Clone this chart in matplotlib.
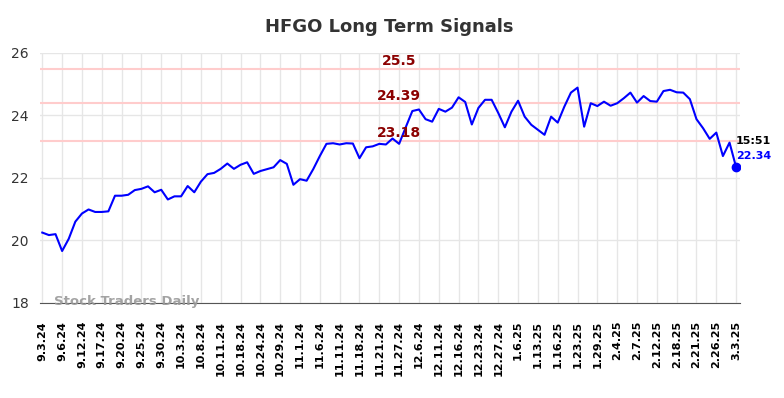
import matplotlib.pyplot as plt
import numpy as np

# closing prices, one every trading session shown
prices = [20.25, 20.17, 20.20, 19.66, 20.05, 20.60, 20.86, 20.99, 20.91, 20.91,
          20.93, 21.43, 21.43, 21.46, 21.61, 21.65, 21.73, 21.54, 21.62, 21.31,
          21.41, 21.41, 21.74, 21.54, 21.88, 22.12, 22.16, 22.29, 22.46, 22.29,
          22.42, 22.50, 22.13, 22.22, 22.28, 22.34, 22.57, 22.45, 21.78, 21.96,
          21.91, 22.28, 22.70, 23.09, 23.11, 23.07, 23.11, 23.10, 22.63, 22.98,
          23.01, 23.09, 23.07, 23.26, 23.09, 23.62, 24.14, 24.19, 23.88, 23.80,
          24.21, 24.12, 24.25, 24.58, 24.43, 23.71, 24.24, 24.50, 24.50, 24.08,
          23.62, 24.12, 24.47, 23.96, 23.70, 23.54, 23.38, 23.96, 23.77, 24.28,
          24.73, 24.89, 23.64, 24.39, 24.30, 24.44, 24.31, 24.39, 24.55, 24.73,
          24.41, 24.62, 24.46, 24.44, 24.78, 24.82, 24.74, 24.73, 24.52, 23.88,
          23.59, 23.25, 23.45, 22.70, 23.13, 22.34]

tick_labels = ['9.3.24', '9.6.24', '9.12.24', '9.17.24', '9.20.24', '9.25.24',
               '9.30.24', '10.3.24', '10.8.24', '10.11.24', '10.18.24', '10.24.24',
               '10.29.24', '11.1.24', '11.6.24', '11.11.24', '11.18.24', '11.21.24',
               '11.27.24', '12.6.24', '12.11.24', '12.16.24', '12.23.24', '12.27.24',
               '1.6.25', '1.13.25', '1.16.25', '1.23.25', '1.29.25', '2.4.25',
               '2.7.25', '2.12.25', '2.18.25', '2.21.25', '2.26.25', '3.3.25']

signals = [25.5, 24.39, 23.18]
last_time = '15:51'

x = np.arange(len(prices))
ticks = np.arange(len(tick_labels)) * 3

fig = plt.figure(figsize=(7.84, 3.98), dpi=100)
ax = fig.add_axes([0.051, 0.239, 0.893, 0.628])

for s in signals:
    ax.axhline(s, color='#ffcccc', lw=1.5, zorder=1)
    ax.text(54, s + 0.02, str(s), color='#8b0000', fontsize=10, fontweight='bold',
            ha='center', va='bottom', zorder=3)

ax.plot(x, prices, color='#0000ff', lw=1.5, zorder=2)
ax.plot(x[-1], prices[-1], 'o', color='#0000ff', ms=6, zorder=3)

ax.text(x[-1], prices[-1] + 0.84, last_time, fontsize=8, fontweight='bold',
        color='black', ha='left', va='center')
ax.text(x[-1], prices[-1] + 0.36, '%.2f' % prices[-1], fontsize=8, fontweight='bold',
        color='#0000ff', ha='left', va='center')

ax.text(1.8, 18.03, 'Stock Traders Daily', fontsize=9.5, fontweight='bold',
        color='#999999', alpha=0.9, ha='left', va='center')

ax.set_xlim(-0.35, 105.6)
ax.set_ylim(18, 26)
ax.set_yticks([18, 20, 22, 24, 26])
ax.set_xticks(ticks)
ax.set_xticklabels(tick_labels, rotation=90, fontsize=8, fontweight='bold')
ax.tick_params(axis='y', labelsize=10, length=0, pad=8, colors='#333333')
ax.tick_params(axis='x', length=0, pad=13)
ax.grid(True, color='#e6e6e6', lw=1)
ax.set_axisbelow(True)
for side in ['top', 'right', 'left']:
    ax.spines[side].set_visible(False)
ax.spines['bottom'].set_color('#555555')

fig.suptitle('HFGO Long Term Signals', x=0.497, y=0.955, fontsize=13,
             fontweight='bold', color='#333333')

fig.savefig('out.png', dpi=100)
